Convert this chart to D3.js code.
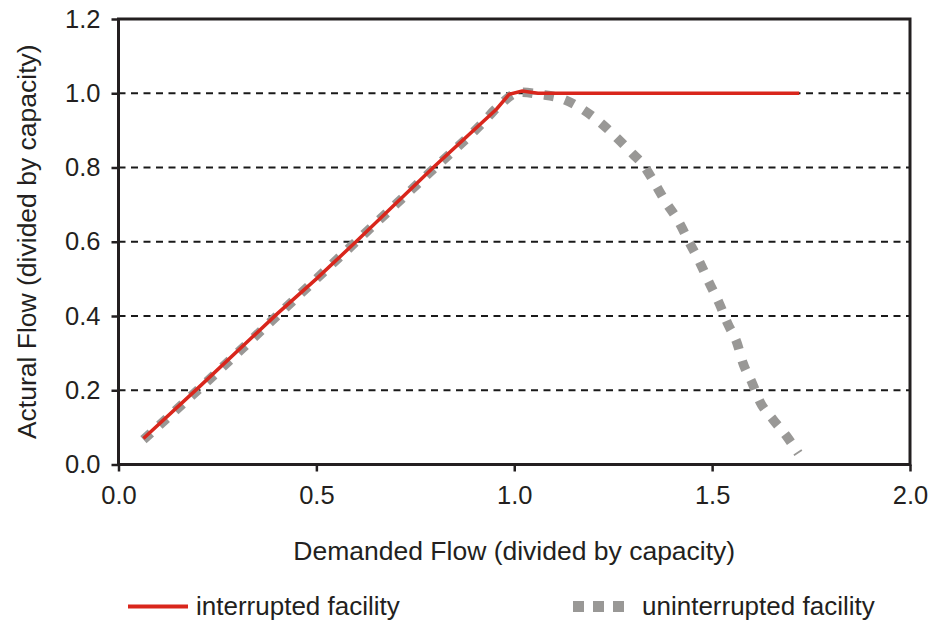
<!DOCTYPE html>
<html>
<head>
<meta charset="utf-8">
<script src="https://cdn.jsdelivr.net/npm/d3@7"></script>
<style>
  body { margin: 0; background: #fff; }
  text { font-family: "Liberation Sans", Arial, Helvetica, sans-serif; fill: #231f20; }
</style>
</head>
<body>
<div id="chart"></div>
<script>
const width = 933
const height = 622

// interrupted facility (red)
const demandRed = [0.063, 0.2, 0.4, 0.5, 0.6, 0.8, 0.955, 0.987, 1.02, 1.06, 1.72]
const actualRed = [0.07, 0.205, 0.405, 0.5, 0.6, 0.805, 0.957, 0.997, 1.006, 1.0, 1.0]

// uninterrupted facility (gray)
const demandGray = [0.063, 0.2, 0.4, 0.6, 0.8, 0.92, 0.96, 1.015, 1.066, 1.124, 1.172, 1.222, 1.26, 1.30, 1.326, 1.351, 1.381, 1.414, 1.444, 1.47, 1.492, 1.518, 1.54, 1.563, 1.578, 1.601, 1.621, 1.654, 1.689, 1.718]
const actualGray = [0.067, 0.2, 0.4, 0.6, 0.8, 0.92, 0.965, 1.003, 0.997, 0.984, 0.957, 0.917, 0.879, 0.836, 0.807, 0.765, 0.71, 0.657, 0.595, 0.542, 0.491, 0.434, 0.378, 0.327, 0.273, 0.22, 0.169, 0.121, 0.075, 0.03]

const xTicks = [0, 0.5, 1.0, 1.5, 2.0]
const yTicks = [0, 0.2, 0.4, 0.6, 0.8, 1.0, 1.2]
const gridValues = [0.2, 0.4, 0.6, 0.8, 1.0]

const svg = d3.select("#chart")
  .append("svg")
  .attr("width", width)
  .attr("height", height)

const xScale = d3.scaleLinear()
  .domain([0, 2])
  .range([118.5, 910])

const yScale = d3.scaleLinear()
  .domain([0, 1.2])
  .range([464.5, 19])

// dashed gridlines
svg.selectAll("line.grid")
  .data(gridValues)
  .join("line")
  .attr("class", "grid")
  .attr("x1", xScale(0))
  .attr("x2", xScale(2))
  .attr("y1", d => yScale(d))
  .attr("y2", d => yScale(d))
  .attr("stroke", "#1a1a1a")
  .attr("stroke-width", 2)
  .attr("stroke-dasharray", "7,5.5")

// axes
const yAxis = d3.axisLeft(yScale)
  .tickValues(yTicks)
  .tickFormat(d3.format(".1f"))
  .tickSize(7)
  .tickPadding(11)

const xAxis = d3.axisBottom(xScale)
  .tickValues(xTicks)
  .tickFormat(d3.format(".1f"))
  .tickSize(7)
  .tickPadding(14)

const gy = svg.append("g")
  .attr("transform", `translate(${xScale(0)},0)`)
  .call(yAxis)
gy.select(".domain").remove()
gy.selectAll("text").attr("font-size", 25.5).style("fill", "#231f20")
gy.selectAll("line").attr("stroke", "#231f20").attr("stroke-width", 2.5)

const gx = svg.append("g")
  .attr("transform", `translate(0,${yScale(0)})`)
  .call(xAxis)
gx.select(".domain").remove()
gx.selectAll("text").attr("font-size", 25.5).style("fill", "#231f20")
gx.selectAll("line").attr("stroke", "#231f20").attr("stroke-width", 2.5)

// frame
svg.append("rect")
  .attr("x", xScale(0))
  .attr("y", yScale(1.2))
  .attr("width", xScale(2) - xScale(0))
  .attr("height", yScale(0) - yScale(1.2))
  .attr("fill", "none")
  .attr("stroke", "#231f20")
  .attr("stroke-width", 3)

const lineFunc = d3.line()
  .x(d => xScale(d[0]))
  .y(d => yScale(d[1]))
  .curve(d3.curveMonotoneX)

const grayData = demandGray.map((d, i) => [d, actualGray[i]])
const redData = demandRed.map((d, i) => [d, actualRed[i]])

svg.append("path")
  .attr("d", lineFunc(grayData))
  .attr("fill", "none")
  .attr("stroke", "#999896")
  .attr("stroke-width", 9.5)
  .attr("stroke-dasharray", "10,11.5")

svg.append("path")
  .attr("d", lineFunc.curve(d3.curveLinear)(redData))
  .attr("fill", "none")
  .attr("stroke", "#d9261c")
  .attr("stroke-width", 3.5)

// axis titles
svg.append("text")
  .attr("x", (xScale(0) + xScale(2)) / 2)
  .attr("y", 560)
  .attr("text-anchor", "middle")
  .attr("font-size", 26.5)
  .text("Demanded Flow (divided by capacity)")

svg.append("text")
  .attr("transform", `translate(36,${(yScale(0) + yScale(1.2)) / 2}) rotate(-90)`)
  .attr("text-anchor", "middle")
  .attr("font-size", 26.5)
  .text("Actural Flow (divided by capacity)")

// legend
const legend = svg.append("g")

legend.append("line")
  .attr("x1", 128).attr("x2", 188)
  .attr("y1", 606.5).attr("y2", 606.5)
  .attr("stroke", "#d9261c")
  .attr("stroke-width", 4)

legend.append("text")
  .attr("x", 196)
  .attr("y", 615)
  .attr("font-size", 26)
  .text("interrupted facility")

legend.append("line")
  .attr("x1", 573).attr("x2", 626)
  .attr("y1", 606.5).attr("y2", 606.5)
  .attr("stroke", "#999896")
  .attr("stroke-width", 11)
  .attr("stroke-dasharray", "11,9")

legend.append("text")
  .attr("x", 642)
  .attr("y", 615)
  .attr("font-size", 26)
  .text("uninterrupted facility")
</script>
</body>
</html>
